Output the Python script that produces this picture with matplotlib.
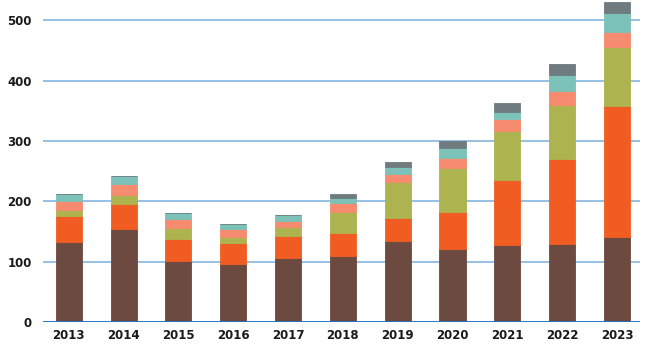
import numpy as np
import matplotlib
matplotlib.use("Agg")
import matplotlib.pyplot as plt

years = ["2013", "2014", "2015", "2016", "2017", "2018",
         "2019", "2020", "2021", "2022", "2023"]

# stacked segments, bottom to top
brown = [133, 154, 101, 96, 106, 110, 135, 121, 128, 130, 141]
orange = [43, 42, 37, 35, 36, 37, 37, 62, 107, 140, 217]
olive = [10, 14, 18, 10, 15, 36, 60, 73, 81, 90, 98]
salmon = [14, 18, 15, 13, 11, 15, 14, 16, 20, 23, 25]
teal = [12, 14, 10, 9, 10, 8, 11, 16, 12, 26, 31]
gray = [0, 0, 0, 0, 0, 6, 9, 12, 15, 19, 18]

series = [brown, orange, olive, salmon, teal, gray]
colors = ["#6c4a3f", "#f15c22", "#adb34f", "#f68b6f", "#7cc2b9", "#6f7b7e"]

fig = plt.figure(figsize=(6.53, 3.48), dpi=100)
ax = fig.add_axes([0.066, 0.075, 0.914, 0.925])

x = np.arange(len(years))
bottom = np.zeros(len(years))
for vals, c in zip(series, colors):
    ax.bar(x, vals, width=0.475, bottom=bottom, color=c,
           edgecolor=c, linewidth=0.6, zorder=3)
    bottom += np.array(vals)

ax.set_xlim(-0.47, 10.42)
ax.set_ylim(0, 534)
ax.set_yticks([0, 100, 200, 300, 400, 500])
ax.set_xticks(x)
ax.set_xticklabels(years)

ax.yaxis.grid(True, color="#8fbbe0", linewidth=1.3, zorder=0)
ax.axhline(0, color="#1f74c9", linewidth=2, zorder=4)
for s in ax.spines.values():
    s.set_visible(False)
ax.tick_params(length=0, labelsize=8.5, colors="#1a1a1a")
ax.tick_params(axis="y", pad=8)
ax.tick_params(axis="x", pad=5)
for lab in ax.get_xticklabels() + ax.get_yticklabels():
    lab.set_fontweight("bold")

fig.savefig("out.png", dpi=100)
